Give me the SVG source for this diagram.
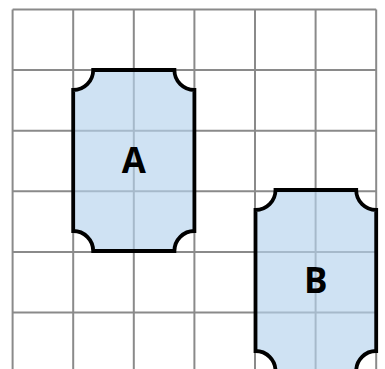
<svg xmlns="http://www.w3.org/2000/svg" width="385" height="369" viewBox="0 0 385 369">
<style>
.grid line{stroke:#8a8a8a;stroke-width:2}
.shape{fill:#b5d2ec;fill-opacity:0.65;stroke:#000;stroke-width:3.8;stroke-linejoin:miter}
.lbl{font-family:"Open Sans","DejaVu Sans",sans-serif;font-weight:bold;font-size:35px;text-anchor:middle;fill:#000}
</style>
<rect width="385" height="369" fill="#fff"/>
<g class="grid" id="grid">
<line x1="12.6" y1="9.5" x2="12.6" y2="369"/>
<line x1="73.2" y1="9.5" x2="73.2" y2="369"/>
<line x1="133.8" y1="9.5" x2="133.8" y2="369"/>
<line x1="194.4" y1="9.5" x2="194.4" y2="369"/>
<line x1="255" y1="9.5" x2="255" y2="369"/>
<line x1="315.6" y1="9.5" x2="315.6" y2="369"/>
<line x1="376.2" y1="9.5" x2="376.2" y2="369"/>
<line x1="12.6" y1="9.5" x2="376.2" y2="9.5"/>
<line x1="12.6" y1="70.1" x2="376.2" y2="70.1"/>
<line x1="12.6" y1="130.7" x2="376.2" y2="130.7"/>
<line x1="12.6" y1="191.3" x2="376.2" y2="191.3"/>
<line x1="12.6" y1="251.9" x2="376.2" y2="251.9"/>
<line x1="12.6" y1="312.5" x2="376.2" y2="312.5"/>
</g>
<g id="nodeA">
<path class="shape" d="M93.2,70 L174.4,70 A20,20 0 0 0 194.4,90 L194.4,231 A20,20 0 0 0 174.4,251 L93.2,251 A20,20 0 0 0 73.2,231 L73.2,90 A20,20 0 0 0 93.2,70 Z"/>
<text class="lbl" x="133.8" y="173">A</text>
</g>
<g id="nodeB">
<path class="shape" d="M275.5,190 L356.2,190 A20,20 0 0 0 376.2,210 L376.2,351 A20,20 0 0 0 356.2,371 L275.5,371 A20,20 0 0 0 255.5,351 L255.5,210 A20,20 0 0 0 275.5,190 Z"/>
<text class="lbl" x="315.8" y="293">B</text>
</g>
<g id="connectors"/>
</svg>
